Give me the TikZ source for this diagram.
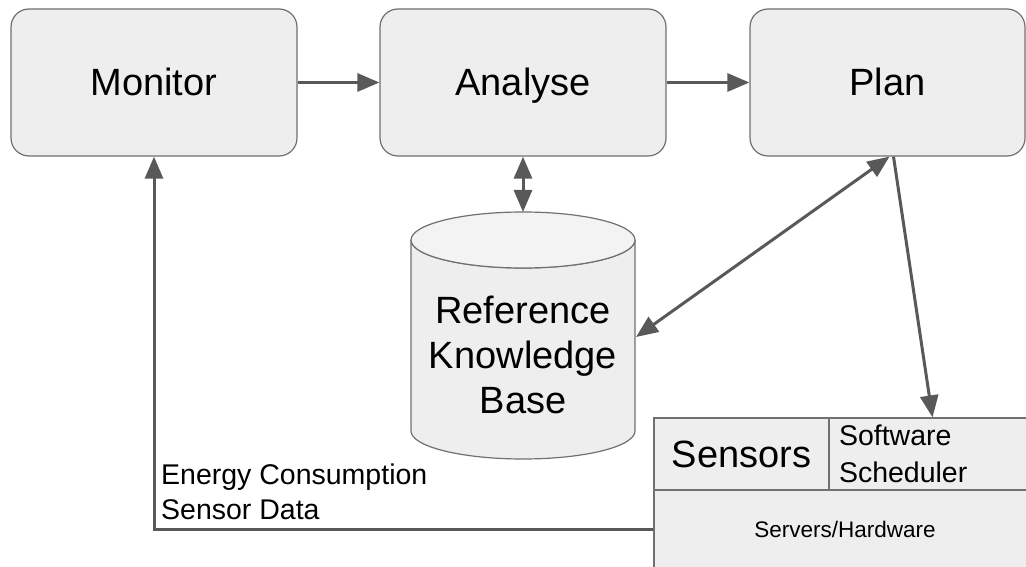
\documentclass[tikz,border=0pt]{standalone}
\usepackage{fontspec}
\setmainfont{Liberation Sans}
\usetikzlibrary{arrows.meta,calc}
\definecolor{boxfill}{HTML}{EEEEEE}
\definecolor{capfill}{HTML}{F3F3F3}
\definecolor{boxline}{HTML}{707070}
\definecolor{flow}{HTML}{595959}
\tikzset{
  stage/.style={draw=boxline, fill=boxfill, line width=1.2pt, rounded corners=18pt,
    minimum width=286pt, minimum height=147pt, inner sep=0pt,
    text height=27pt, text depth=0pt,
    font=\fontsize{38}{44}\selectfont},
  cell/.style={draw=boxline, fill=boxfill, line width=1.2pt, inner sep=0pt},
  flowline/.style={draw=flow, line width=3pt},
  tip/.style={-{Triangle[length=22pt,width=18pt]}},
  tips/.style={{Triangle[length=22pt,width=18pt]}-{Triangle[length=22pt,width=18pt]}},
}
\begin{document}
\begin{tikzpicture}[x=1pt,y=-1pt]
\useasboundingbox (0,0) rectangle (1026,567);
\clip (0,0) rectangle (1026,567);

% MAPE stages
\node[stage] (monitor) at (154,82.5) {Monitor};
\node[stage] (analyse) at (523,82.5) {Analyse};
\node[stage, minimum width=275pt] (plan) at (887.5,82.5) {Plan};

% knowledge base cylinder
\path[draw=boxline, fill=boxfill, line width=1.2pt]
  (411,240) -- (411,431) arc[start angle=180, end angle=0, x radius=112, y radius=28]
  -- (635,240) arc[start angle=0, end angle=180, x radius=112, y radius=28] -- cycle;
\draw[boxline, fill=capfill, line width=1.2pt] (523,240) ellipse[x radius=112, y radius=28];
\node[align=center, font=\fontsize{38}{45}\selectfont] (kb) at (523,355)
  {Reference\\Knowledge\\Base};
\coordinate (kbtop) at (523,212);
\coordinate (kbside) at (636,337);

% managed system
\node[cell, minimum width=175pt, minimum height=72pt,
  font=\fontsize{38}{44}\selectfont] (sens) at (741.5,454) {Sensors};
\node[cell, minimum height=72pt, text width=181pt, inner xsep=10pt, align=left,
  font=\fontsize{28.5}{37}\selectfont] (sched) at (929.5,454) {Software\\Scheduler};
\node[cell, minimum width=376pt, minimum height=78pt,
  font=\fontsize{22.5}{26}\selectfont] (servers) at (842,529) {\hspace*{6pt}Servers/Hardware};

% connectors
\draw[flowline, tip] (monitor.east) -- (analyse.west);
\draw[flowline, tip] (analyse.east) -- (plan.west);
\draw[flowline, tips] (analyse.south) -- (kbtop);
\draw[flowline, tips] ($(plan.south)+(2,0)$) -- (kbside);
\draw[flowline, tip] ($(plan.south)+(6,0)$) -- ($(sched.north)+(3,0)$);
\draw[flowline, tip] (servers.west) -| (monitor.south);

\node[anchor=north west, align=left, inner sep=0pt,
  font=\fontsize{28.5}{35}\selectfont] (energy) at (161,464)
  {Energy Consumption\\Sensor Data};
\end{tikzpicture}
\end{document}
